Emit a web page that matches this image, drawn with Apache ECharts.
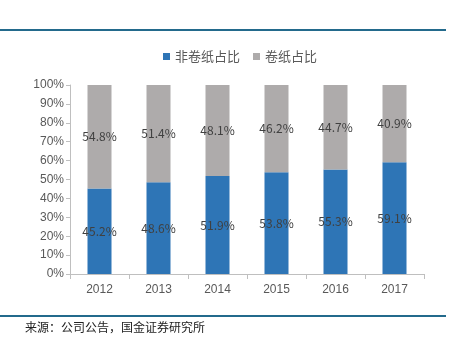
<!DOCTYPE html>
<html>
<head>
<meta charset="utf-8">
<script src="https://cdn.jsdelivr.net/npm/echarts@6/dist/echarts.min.js"></script>
<style>html,body{margin:0;padding:0;background:#fff;}#c{width:453px;height:338px;}</style>
</head>
<body>
<div id="c"></div>
<script>
var categories = ['2012','2013','2014','2015','2016','2017'];
var nonRollPaper = [45.2, 48.6, 51.9, 53.8, 55.3, 59.1];
var rollPaper = [54.8, 51.4, 48.1, 46.2, 44.7, 40.9];
var seriesNames = ['非卷纸占比', '卷纸占比'];
var sourceText = '来源：公司公告，国金证券研究所';

var chart = echarts.init(document.getElementById('c'));
var labelStyle = {
  show: true,
  position: 'inside',
  color: '#404040',
  fontSize: 12,
  fontFamily: 'Noto Sans CJK SC',
  formatter: function (p) { return p.value.toFixed(1) + '%'; }
};
chart.setOption({
  animation: false,
  grid: { left: 70, right: 29, top: 85, bottom: 64 },
  legend: {
    top: 45,
    left: 158,
    itemWidth: 7,
    itemHeight: 7,
    itemGap: 13,
    icon: 'rect',
    textStyle: { color: '#595959', fontSize: 13, fontFamily: 'Noto Sans CJK SC' },
    data: seriesNames
  },
  xAxis: {
    type: 'category',
    data: categories,
    axisLine: { lineStyle: { color: '#BFBFBF' } },
    axisTick: { show: true, length: 5, lineStyle: { color: '#BFBFBF' } },
    axisLabel: { color: '#595959', fontSize: 12, fontFamily: 'Liberation Sans', margin: 10 }
  },
  yAxis: {
    type: 'value',
    min: 0, max: 100, interval: 10,
    splitLine: { show: false },
    axisLine: { show: true, lineStyle: { color: '#BFBFBF' } },
    axisTick: { show: true, length: 4, lineStyle: { color: '#BFBFBF' } },
    axisLabel: { color: '#595959', fontSize: 12, fontFamily: 'Liberation Sans', margin: 6, formatter: '{value}%' }
  },
  series: [
    { name: seriesNames[0], type: 'bar', stack: 'a', data: nonRollPaper, barWidth: 24,
      itemStyle: { color: '#2E75B6' }, label: labelStyle },
    { name: seriesNames[1], type: 'bar', stack: 'a', data: rollPaper, barWidth: 24,
      itemStyle: { color: '#AEABAB' }, label: labelStyle }
  ],
  graphic: [
    { type: 'rect', left: 0, top: 29, shape: { width: 446, height: 2 }, style: { fill: '#236A8C' } },
    { type: 'rect', left: 0, top: 315, shape: { width: 446, height: 2 }, style: { fill: '#236A8C' } },
    { type: 'text', left: 25, top: 321, style: { text: sourceText, fill: '#222', fontSize: 12, fontFamily: 'Noto Sans CJK SC' } }
  ]
});
</script>
</body>
</html>
